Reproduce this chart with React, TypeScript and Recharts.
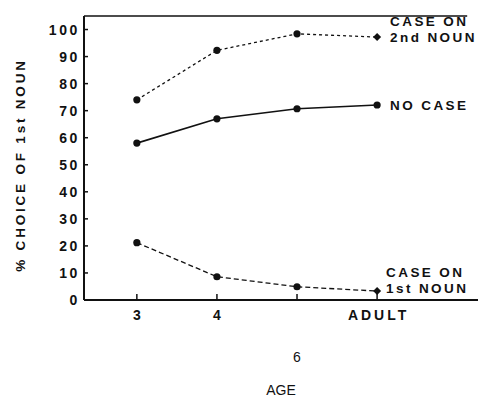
import { Label, LabelList, Line, LineChart, ReferenceLine, XAxis, YAxis } from "recharts";

// Age groups along the x axis, placed at evenly spaced positions 1..4
const AGE_POS = [1, 2, 3, 4];
const AGE_LABELS = ["3", "4", "6", "ADULT"];

// % choice of the first noun as agent, per age group
const CASE_ON_2ND = [74, 92.3, 98.4, 97.2];
const NO_CASE = [58, 67, 70.7, 72.1];
const CASE_ON_1ST = [21.2, 8.6, 4.9, 3.3];

const Y_TICKS = [0, 10, 20, 30, 40, 50, 60, 70, 80, 90, 100];

const data = AGE_POS.map((pos, i) => ({
  pos,
  age: AGE_LABELS[i],
  second: CASE_ON_2ND[i],
  none: NO_CASE[i],
  first: CASE_ON_1ST[i],
}));

const INK = "#111";
const FIG_FONT = "'Liberation Sans', Arial, sans-serif";

function YTick({ x = 0, y = 0, payload }: any) {
  return (
    <g>
      <line x1={x + 6} y1={y} x2={x + 10} y2={y} stroke={INK} strokeWidth={1.5} />
      <text
        x={x + 2}
        y={y}
        textAnchor="end"
        dominantBaseline="central"
        fontFamily={FIG_FONT}
        fontWeight="bold"
        fontSize={14}
        letterSpacing={2.6}
        fill={INK}
      >
        {payload.value}
      </text>
    </g>
  );
}

function XTick({ x = 0, y = 0, index }: any) {
  const axisY = y - 15;
  const label = AGE_LABELS[index] ?? "";
  // the "6" sits on its own line under the axis, in plain type
  const dropped = label === "6";
  return (
    <g>
      <line x1={x} y1={axisY} x2={x} y2={axisY - 6} stroke={INK} strokeWidth={1.5} />
      <text
        x={dropped ? x : x + 1.5}
        y={dropped ? y + 42 : y}
        textAnchor="middle"
        dominantBaseline="central"
        fontFamily={FIG_FONT}
        fontWeight={dropped ? "normal" : "bold"}
        fontSize={dropped ? 14 : 14}
        letterSpacing={dropped ? 0 : 3}
        fill={INK}
      >
        {label}
      </text>
    </g>
  );
}

function makeDot(diamondAtEnd: boolean) {
  return function Dot({ cx, cy, index }: any) {
    if (cx == null || cy == null) return null;
    if (diamondAtEnd && index === AGE_POS.length - 1) {
      const r = 4;
      return <path d={`M${cx},${cy - r}L${cx + r},${cy}L${cx},${cy + r}L${cx - r},${cy}Z`} fill={INK} />;
    }
    return <circle cx={cx} cy={cy} r={3.6} fill={INK} />;
  };
}

function seriesLabel(lines: string[], dx: number, dy: number) {
  return function SeriesLabel({ x, y, index }: any) {
    if (index !== AGE_POS.length - 1) return null;
    return (
      <text
        x={x + dx}
        y={y + dy}
        fontFamily={FIG_FONT}
        fontWeight="bold"
        fontSize={13.5}
        letterSpacing={2.4}
        fill={INK}
        dominantBaseline="central"
      >
        {lines.map((t, i) => (
          <tspan key={t} x={x + dx} dy={i === 0 ? 0 : 16}>
            {t}
          </tspan>
        ))}
      </text>
    );
  };
}

export default function App() {
  return (
    <div style={{ position: "absolute", left: 0, top: 0, width: 478, height: 398, background: "#fff" }}>
      <LineChart width={478} height={398} data={data} margin={{ top: 16, right: 0, bottom: 0, left: 44 }}>
        <XAxis
          dataKey="pos"
          type="number"
          domain={[0.34, 5.26]}
          ticks={AGE_POS}
          tick={<XTick />}
          tickLine={false}
          tickSize={0}
          tickMargin={15}
          height={98}
          axisLine={{ stroke: INK, strokeWidth: 2 }}
        >
          <Label value="AGE" position="insideBottom" offset={3} fontFamily={FIG_FONT} fontSize={14} fill={INK} />
        </XAxis>
        <YAxis
          type="number"
          domain={[0, 105]}
          ticks={Y_TICKS}
          tick={<YTick />}
          tickLine={false}
          tickSize={0}
          tickMargin={6}
          width={40}
          axisLine={{ stroke: INK, strokeWidth: 2 }}
          allowDataOverflow
        />
        <ReferenceLine
          segment={[
            { x: 0.34, y: 105 },
            { x: 5.125, y: 105 },
          ]}
          stroke={INK}
          strokeWidth={1.6}
          ifOverflow="visible"
        />
        <Line
          dataKey="second"
          stroke={INK}
          strokeWidth={1.3}
          strokeDasharray="3 3"
          dot={makeDot(true)}
          isAnimationActive={false}
        >
          <LabelList dataKey="second" content={seriesLabel(["CASE ON", "2nd NOUN"], 13, -16)} />
        </Line>
        <Line dataKey="none" stroke={INK} strokeWidth={1.6} dot={makeDot(false)} isAnimationActive={false}>
          <LabelList dataKey="none" content={seriesLabel(["NO CASE"], 13, 0)} />
        </Line>
        <Line
          dataKey="first"
          stroke={INK}
          strokeWidth={1.3}
          strokeDasharray="5 3"
          dot={makeDot(true)}
          isAnimationActive={false}
        >
          <LabelList dataKey="first" content={seriesLabel(["CASE ON", "1st NOUN"], 9, -19)} />
        </Line>
        <text
          x={20}
          y={165}
          transform="rotate(-90 20 165)"
          textAnchor="middle"
          dominantBaseline="central"
          fontFamily={FIG_FONT}
          fontWeight="bold"
          fontSize={13.5}
          letterSpacing={2.8}
          fill={INK}
        >
          % CHOICE OF 1st NOUN
        </text>
      </LineChart>
    </div>
  );
}
